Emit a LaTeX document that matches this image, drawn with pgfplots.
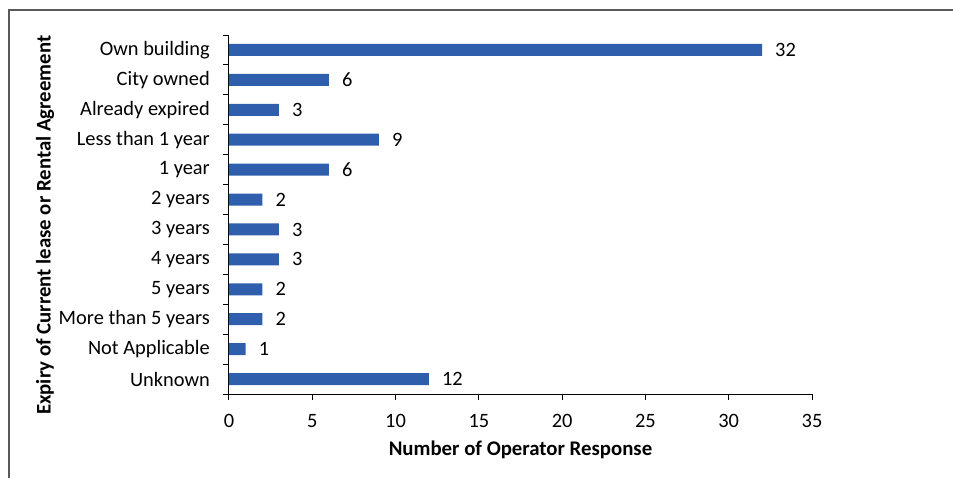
\documentclass[border=0pt]{standalone}
\usepackage{fontspec}
\setmainfont{Carlito}
\usepackage{pgfplots}
\pgfplotsset{compat=1.18}
\definecolor{barblue}{RGB}{46,94,172}
\begin{document}
\begin{tikzpicture}
\fontsize{10.2}{12}\selectfont
\path[use as bounding box] (0,0) rectangle (476.5pt,239pt);
% chart frame (left and top edges visible)
\draw[gray!70!black, line width=0.6pt] (4.5pt,0) -- (4.5pt,234pt) -- (476.5pt,234pt);
\begin{axis}[
  at={(114.5pt,42pt)}, anchor=south west,
  scale only axis,
  width=291.5pt, height=179.5pt,
  xbar, bar width=6pt,
  xmin=0, xmax=35,
  ymin=-0.5, ymax=11.5,
  y dir=reverse,
  axis x line*=bottom, axis y line*=left,
  axis line style={black, line width=0.5pt},
  xtick={0,5,...,35},
  ytick={0,...,11},
  yticklabels={Own building,City owned,Already expired,Less than 1 year,1 year,2 years,3 years,4 years,5 years,More than 5 years,Not Applicable,Unknown},
  minor ytick={-0.5,0.5,...,11.5},
  major y tick style={draw=none},
  tick align=outside,
  major tick length=3pt, minor tick length=3pt,
  tick style={black, line width=0.5pt},
  /pgf/number format/assume math mode=true,
  ticklabel style={font=\fontsize{10.2}{12}\selectfont},
  yticklabel style={xshift=-3pt},
  xticklabel style={yshift=-3.5pt},
  xlabel={\textbf{Number of Operator Response}},
  ylabel={\textbf{Expiry of Current lease or Rental Agreement}},
  label style={font=\fontsize{10.4}{12}\selectfont},
  xlabel style={at={(axis description cs:0.5,-0.156)}, anchor=center},
  ylabel style={at={(axis description cs:-0.3156,0.47)}, anchor=center},
  nodes near coords,
  every node near coord/.append style={black, font=\fontsize{10.2}{12}\selectfont, xshift=3pt},
]
\addplot[fill=barblue, draw=none] coordinates {
  (32,0) (6,1) (3,2) (9,3) (6,4) (2,5) (3,6) (3,7) (2,8) (2,9) (1,10) (12,11)
};
\end{axis}
\end{tikzpicture}
\end{document}
